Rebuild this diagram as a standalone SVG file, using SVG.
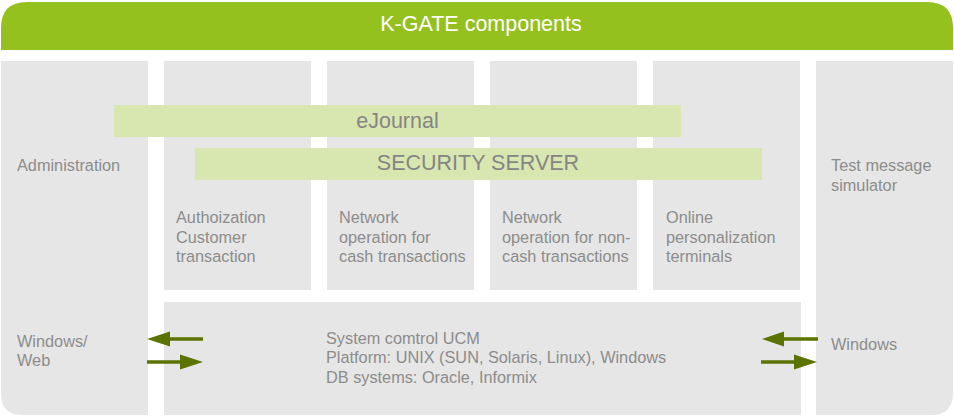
<svg xmlns="http://www.w3.org/2000/svg" width="954" height="416" viewBox="0 0 954 416">
<defs>
<style>
.box{fill:#e6e6e6}
.bar{fill:#d8e6b0}
.t{font-family:"Liberation Sans",Arial,sans-serif;font-size:16.3px;fill:#8c8c8c}
.big{font-family:"Liberation Sans",Arial,sans-serif;font-size:21.5px;fill:#858585;text-anchor:middle}
.hdr{font-family:"Liberation Sans",Arial,sans-serif;font-size:21.5px;fill:#ffffff;text-anchor:middle}
.shaft{stroke:#5b7300;stroke-width:3.5;fill:none}
.head{fill:#5b7300}
</style>
</defs>
<rect width="954" height="416" fill="#ffffff"/>
<g id="header">
<path d="M1,50 L1,28 Q1,2 27,2 L927,2 Q953,2 953,28 L953,50 Z" fill="#95c11f"/>
<text class="hdr" x="481" y="31">K-GATE components</text>
</g>
<g id="administration">
<path class="box" d="M1,61 L148,61 L148,415 L22,415 Q1,415 1,394 Z"/>
<text class="t" x="17" y="171">Administration</text>
<text class="t" x="17" y="347">Windows/</text>
<text class="t" x="17" y="366">Web</text>
</g>
<g id="col-auth">
<rect class="box" x="164" y="61" width="147" height="229"/>
<text class="t" x="176" y="223">Authoization</text>
<text class="t" x="176" y="243">Customer</text>
<text class="t" x="176" y="262">transaction</text>
</g>
<g id="col-cash">
<rect class="box" x="327" y="61" width="147" height="229"/>
<text class="t" x="339" y="223">Network</text>
<text class="t" x="339" y="243">operation for</text>
<text class="t" x="339" y="262">cash transactions</text>
</g>
<g id="col-noncash">
<rect class="box" x="490" y="61" width="147" height="229"/>
<text class="t" x="502" y="223">Network</text>
<text class="t" x="502" y="243">operation for non-</text>
<text class="t" x="502" y="262">cash transactions</text>
</g>
<g id="col-online">
<rect class="box" x="653" y="61" width="147" height="229"/>
<text class="t" x="666" y="223">Online</text>
<text class="t" x="666" y="243">personalization</text>
<text class="t" x="666" y="262">terminals</text>
</g>
<g id="test-simulator">
<path class="box" d="M816,61 L953,61 L953,393 Q953,415 931,415 L816,415 Z"/>
<text class="t" x="831" y="171">Test message</text>
<text class="t" x="831" y="191">simulator</text>
<text class="t" x="831" y="350">Windows</text>
</g>
<g id="system-control">
<rect class="box" x="164" y="302" width="637" height="113"/>
<text class="t" x="326" y="344">System comtrol UCM</text>
<text class="t" x="326" y="363">Platform: UNIX (SUN, Solaris, Linux), Windows</text>
<text class="t" x="326" y="383">DB systems: Oracle, Informix</text>
</g>
<g id="ejournal">
<rect class="bar" x="114" y="105" width="567" height="32"/>
<text class="big" x="397.5" y="128">eJournal</text>
</g>
<g id="security-server">
<rect class="bar" x="195" y="148" width="567" height="32"/>
<text class="big" x="478" y="170">SECURITY SERVER</text>
</g>
<g id="connectors">
<line class="shaft" x1="168" y1="339" x2="203" y2="339"/>
<polygon class="head" points="147,339 170,331.5 170,346.5"/>
<line class="shaft" x1="147" y1="362" x2="182" y2="362"/>
<polygon class="head" points="203,362 180,354.5 180,369.5"/>
<line class="shaft" x1="782" y1="339" x2="818" y2="339"/>
<polygon class="head" points="762,339 784,331.5 784,346.5"/>
<line class="shaft" x1="761" y1="362" x2="796" y2="362"/>
<polygon class="head" points="817,362 794,354.5 794,369.5"/>
</g>
</svg>
